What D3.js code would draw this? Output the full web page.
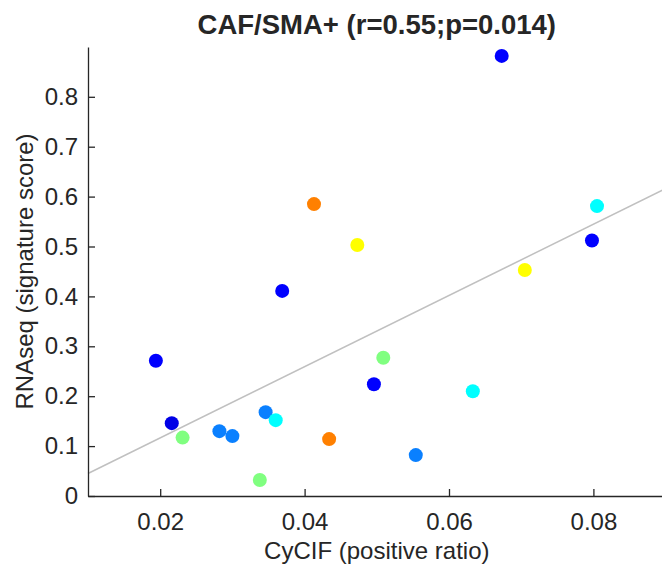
<!DOCTYPE html>
<html>
<head>
<meta charset="utf-8">
<script src="https://cdn.jsdelivr.net/npm/d3@7"></script>
<style>
  html, body { margin: 0; padding: 0; background: #fff; overflow: hidden; }
  svg { display: block; }
  text { font-family: "Liberation Sans", Arial, Helvetica, sans-serif; fill: #262626; }
</style>
</head>
<body>
<svg id="chart" width="662" height="564"></svg>
<script>
// CyCIF positive ratio vs. RNAseq signature score, one point per sample
const cycif = [0.0673, 0.0413, 0.0473, 0.0369, 0.0194, 0.0216, 0.0231, 0.0282, 0.0300, 0.0346,
               0.0360, 0.0338, 0.0434, 0.0496, 0.0509, 0.0554, 0.0633, 0.0705, 0.0798, 0.0805];
const rnaseq = [0.882, 0.585, 0.503, 0.411, 0.271, 0.146, 0.117, 0.130, 0.120, 0.168,
                0.152, 0.032, 0.114, 0.224, 0.277, 0.082, 0.210, 0.453, 0.512, 0.581];
const pointColor = ["#0000ff", "#ff8000", "#ffff00", "#0000ff", "#0000ff", "#0000e6", "#80ff80", "#0a80ff", "#0a80ff", "#0a80ff",
                    "#00ffff", "#80ff80", "#ff8000", "#0000ff", "#80ff80", "#0a80ff", "#00ffff", "#ffff00", "#0000ff", "#00ffff"];

// least-squares fit line endpoints
const fitX = [0.01, 0.09];
const fitY = [0.045, 0.616];

const xTicks = [0.02, 0.04, 0.06, 0.08];
const yTicks = [0, 0.1, 0.2, 0.3, 0.4, 0.5, 0.6, 0.7, 0.8];
const xDomain = [0.01, 0.09];
const yDomain = [0, 0.9];

const titleText = "CAF/SMA+ (r=0.55;p=0.014)";
const xLabel = "CyCIF (positive ratio)";
const yLabel = "RNAseq (signature score)";

const svg = d3.select("#chart");
const plotLeft = 88, plotRight = 665.6, plotTop = 46.9, plotBottom = 496;

const x = d3.scaleLinear().domain(xDomain).range([plotLeft, plotRight]);
const y = d3.scaleLinear().domain(yDomain).range([plotBottom, plotTop]);

// regression line
svg.append("line")
  .attr("x1", x(fitX[0])).attr("y1", y(fitY[0]))
  .attr("x2", x(fitX[1])).attr("y2", y(fitY[1]))
  .attr("stroke", "#c0c0c0").attr("stroke-width", 1.5);

// axes with inward ticks
const xAxis = svg.append("g").attr("transform", `translate(0,${plotBottom})`)
  .call(d3.axisBottom(x).tickValues(xTicks).tickSizeInner(-7).tickSizeOuter(0).tickPadding(17)
        .tickFormat(d3.format(".2f")));
const yAxis = svg.append("g").attr("transform", `translate(${plotLeft},0)`)
  .call(d3.axisLeft(y).tickValues(yTicks).tickSizeInner(-7).tickSizeOuter(0).tickPadding(10)
        .tickFormat(d => d === 0 ? "0" : d3.format(".1f")(d)));

[xAxis, yAxis].forEach(g => {
  g.select(".domain").attr("stroke", "#262626").attr("stroke-width", 1.3);
  g.selectAll(".tick line").attr("stroke", "#262626").attr("stroke-width", 1.3);
  g.selectAll(".tick text").attr("font-size", 24).attr("fill", "#262626")
    .style("font-family", '"Liberation Sans", Arial, sans-serif');
});
xAxis.selectAll(".tick text").attr("dy", "0.71em");

// points
svg.append("g").selectAll("circle")
  .data(cycif.map((v, i) => ({ x: v, y: rnaseq[i], c: pointColor[i] })))
  .join("circle")
  .attr("cx", d => x(d.x))
  .attr("cy", d => y(d.y))
  .attr("r", 7)
  .attr("fill", d => d.c);

// title and axis labels
svg.append("text")
  .attr("x", (plotLeft + plotRight) / 2).attr("y", 34)
  .attr("text-anchor", "middle").attr("font-size", 27.5).attr("font-weight", "bold")
  .attr("fill", "#000").text(titleText);

svg.append("text")
  .attr("x", (plotLeft + plotRight) / 2).attr("y", 559)
  .attr("text-anchor", "middle").attr("font-size", 24).text(xLabel);

svg.append("text")
  .attr("transform", `translate(33,${(plotTop + plotBottom) / 2}) rotate(-90)`)
  .attr("text-anchor", "middle").attr("font-size", 24).text(yLabel);
</script>
</body>
</html>
